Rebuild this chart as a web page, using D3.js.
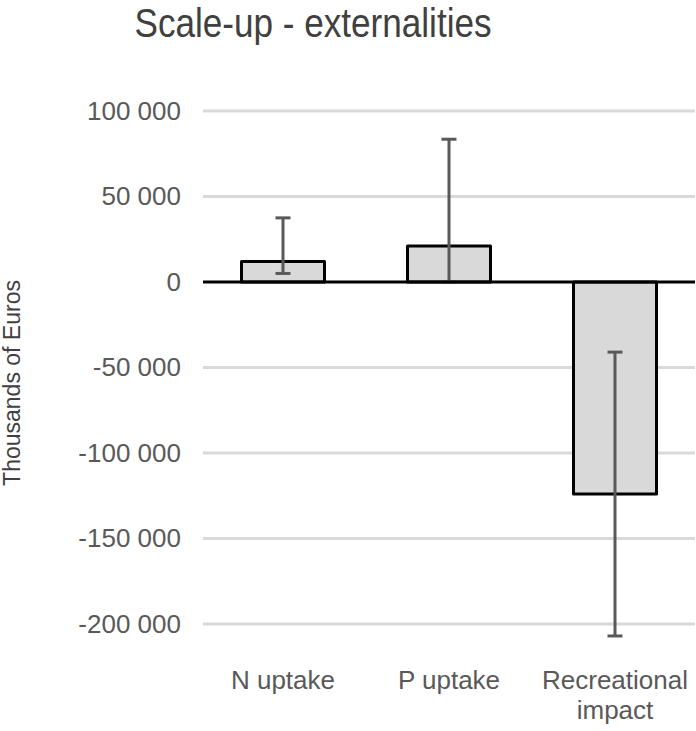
<!DOCTYPE html>
<html>
<head>
<meta charset="utf-8">
<script src="https://cdn.jsdelivr.net/npm/d3@7/dist/d3.min.js"></script>
<style>
  html, body { margin: 0; padding: 0; background: #fff; }
  svg { display: block; }
  text { font-family: "Liberation Sans", Arial, Helvetica, sans-serif; }
</style>
</head>
<body>
<svg id="chart" width="696" height="731"></svg>
<script>
const categories = [["N uptake"], ["P uptake"], ["Recreational", "impact"]];
const values = [12000, 21000, -124000];
const errLow = [5000, 0, -207000];
const errHigh = [37500, 83500, -41000];
const yTicks = [100000, 50000, 0, -50000, -100000, -150000, -200000];
const yTickLabels = ["100 000", "50 000", "0", "-50 000", "-100 000", "-150 000", "-200 000"];
const title = "Scale-up - externalities";
const yTitle = "Thousands of Euros";

const svg = d3.select("#chart");
const keys = categories.map(c => c.join(" "));

const x = d3.scaleBand().domain(keys).range([200, 698]).paddingInner(0.5).paddingOuter(0.25);
const y = d3.scaleLinear().domain([-200000, 100000]).range([624, 111]);

const gridX0 = 203, gridX1 = 695;

// gridlines
svg.append("g").selectAll("line")
  .data(yTicks.filter(t => t !== 0))
  .join("line")
  .attr("x1", gridX0).attr("x2", gridX1)
  .attr("y1", d => y(d)).attr("y2", d => y(d))
  .attr("stroke", "#d9d9d9").attr("stroke-width", 3);

// tick labels
svg.append("g").selectAll("text")
  .data(yTicks)
  .join("text")
  .attr("x", 181)
  .attr("y", d => y(d))
  .attr("dy", "0.33em")
  .attr("text-anchor", "end")
  .attr("font-size", 26)
  .attr("fill", "#595959")
  .text((d, i) => yTickLabels[i]);

// bars
svg.append("g").selectAll("rect")
  .data(values)
  .join("rect")
  .attr("x", (d, i) => x(keys[i]))
  .attr("width", x.bandwidth())
  .attr("y", d => y(Math.max(0, d)))
  .attr("height", d => Math.abs(y(d) - y(0)))
  .attr("fill", "#d9d9d9")
  .attr("stroke", "#000")
  .attr("stroke-width", 3)
  .attr("stroke-linejoin", "round");

// error bars
const eb = svg.append("g").attr("stroke", "#595959").attr("stroke-width", 3);
values.forEach((v, i) => {
  const cx = x(keys[i]) + x.bandwidth() / 2;
  eb.append("line").attr("x1", cx).attr("x2", cx)
    .attr("y1", y(errLow[i])).attr("y2", y(errHigh[i]));
  [errLow[i], errHigh[i]].forEach(e => {
    eb.append("line").attr("x1", cx - 7.5).attr("x2", cx + 7.5)
      .attr("y1", y(e)).attr("y2", y(e));
  });
});

// zero line
svg.append("line")
  .attr("x1", gridX0).attr("x2", gridX1)
  .attr("y1", y(0)).attr("y2", y(0))
  .attr("stroke", "#000").attr("stroke-width", 3);

// category labels
const xl = svg.append("g").selectAll("text")
  .data(categories)
  .join("text")
  .attr("x", (d, i) => x(keys[i]) + x.bandwidth() / 2)
  .attr("y", 689)
  .attr("text-anchor", "middle")
  .attr("font-size", 26)
  .attr("fill", "#595959");
xl.each(function(d) {
  const t = d3.select(this);
  d.forEach((line, j) => {
    t.append("tspan")
      .attr("x", t.attr("x"))
      .attr("dy", j === 0 ? 0 : 30)
      .text(line);
  });
});

// title
svg.append("text")
  .attr("x", 313).attr("y", 37)
  .attr("text-anchor", "middle")
  .attr("font-size", 41)
  .attr("textLength", 357)
  .attr("lengthAdjust", "spacingAndGlyphs")
  .attr("fill", "#404040")
  .text(title);

// y axis title
svg.append("text")
  .attr("transform", "translate(20,383) rotate(-90)")
  .attr("text-anchor", "middle")
  .attr("font-size", 23)
  .attr("fill", "#404040")
  .text(yTitle);
</script>
</body>
</html>
